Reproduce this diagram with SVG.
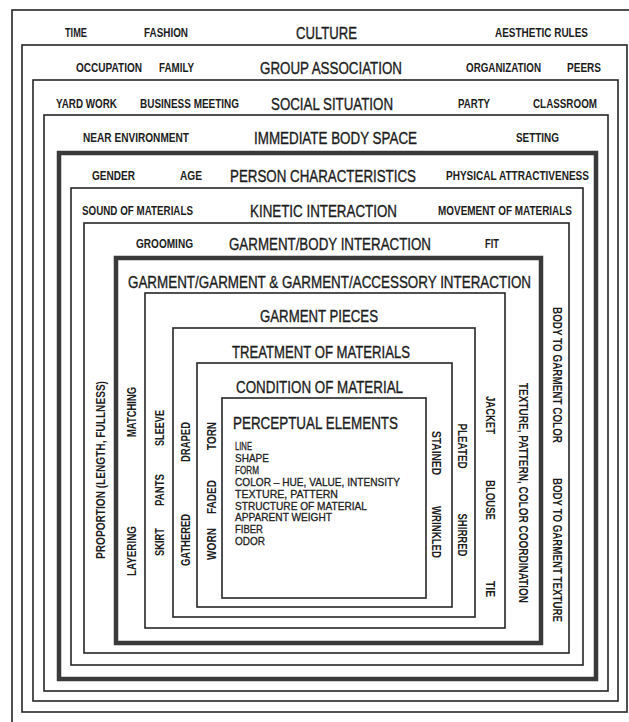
<svg xmlns="http://www.w3.org/2000/svg" width="629" height="722" viewBox="0 0 629 722">
  <style>
    .bx { fill: none; stroke: #262626; stroke-width: 1.6; }
    .bk { fill: none; stroke: #3a3a3a; stroke-width: 4.5; }
    text { font-family: "Liberation Sans", Arial, sans-serif; fill: #1c1c1c; }
    .t { font-size: 16px; stroke: #1c1c1c; stroke-width: 0.35; }
    .s { font-size: 12px; font-weight: bold; }
    .l { font-size: 11px; stroke: #1c1c1c; stroke-width: 0.3; }
  </style>
  <rect width="629" height="722" fill="#ffffff"/>

  <!-- layer 1 -->
  <g id="culture">
    <rect class="bx" x="12" y="10" width="626" height="716"/>
    <text class="s" x="65" y="37.3" textLength="22" lengthAdjust="spacingAndGlyphs">TIME</text>
    <text class="s" x="144" y="37.3" textLength="44" lengthAdjust="spacingAndGlyphs">FASHION</text>
    <text class="t" x="296" y="38.7" textLength="61" lengthAdjust="spacingAndGlyphs">CULTURE</text>
    <text class="s" x="495" y="37.3" textLength="93" lengthAdjust="spacingAndGlyphs">AESTHETIC RULES</text>
  </g>

  <!-- layer 2 -->
  <g id="group-association">
    <rect class="bx" x="22" y="45" width="605" height="667"/>
    <text class="s" x="76" y="72.3" textLength="66" lengthAdjust="spacingAndGlyphs">OCCUPATION</text>
    <text class="s" x="159" y="72.3" textLength="35" lengthAdjust="spacingAndGlyphs">FAMILY</text>
    <text class="t" x="260" y="73.7" textLength="142" lengthAdjust="spacingAndGlyphs">GROUP ASSOCIATION</text>
    <text class="s" x="466" y="72.3" textLength="75" lengthAdjust="spacingAndGlyphs">ORGANIZATION</text>
    <text class="s" x="567" y="72.3" textLength="34" lengthAdjust="spacingAndGlyphs">PEERS</text>
  </g>

  <!-- layer 3 -->
  <g id="social-situation">
    <rect class="bx" x="33" y="80" width="585" height="621"/>
    <text class="s" x="56" y="108.3" textLength="61" lengthAdjust="spacingAndGlyphs">YARD WORK</text>
    <text class="s" x="140" y="108.3" textLength="99" lengthAdjust="spacingAndGlyphs">BUSINESS MEETING</text>
    <text class="t" x="271" y="109.7" textLength="122" lengthAdjust="spacingAndGlyphs">SOCIAL SITUATION</text>
    <text class="s" x="458" y="108.3" textLength="32" lengthAdjust="spacingAndGlyphs">PARTY</text>
    <text class="s" x="533" y="108.3" textLength="64" lengthAdjust="spacingAndGlyphs">CLASSROOM</text>
  </g>

  <!-- layer 4 -->
  <g id="immediate-body-space">
    <rect class="bx" x="44" y="115" width="564" height="576"/>
    <text class="s" x="83" y="142.3" textLength="106" lengthAdjust="spacingAndGlyphs">NEAR ENVIRONMENT</text>
    <text class="t" x="254" y="143.7" textLength="163" lengthAdjust="spacingAndGlyphs">IMMEDIATE BODY SPACE</text>
    <text class="s" x="516" y="142.3" textLength="43" lengthAdjust="spacingAndGlyphs">SETTING</text>
  </g>

  <!-- layer 5 -->
  <g id="person-characteristics">
    <rect class="bk" x="59" y="153" width="537" height="526"/>
    <text class="s" x="92" y="180.3" textLength="43" lengthAdjust="spacingAndGlyphs">GENDER</text>
    <text class="s" x="180" y="180.3" textLength="22" lengthAdjust="spacingAndGlyphs">AGE</text>
    <text class="t" x="230" y="181.7" textLength="186" lengthAdjust="spacingAndGlyphs">PERSON CHARACTERISTICS</text>
    <text class="s" x="446" y="180.3" textLength="143" lengthAdjust="spacingAndGlyphs">PHYSICAL ATTRACTIVENESS</text>
  </g>

  <!-- layer 6 -->
  <g id="kinetic-interaction">
    <rect class="bx" x="71" y="188" width="512" height="477"/>
    <text class="s" x="82" y="215.3" textLength="111" lengthAdjust="spacingAndGlyphs">SOUND OF MATERIALS</text>
    <text class="t" x="250" y="216.7" textLength="147" lengthAdjust="spacingAndGlyphs">KINETIC INTERACTION</text>
    <text class="s" x="438" y="215.3" textLength="134" lengthAdjust="spacingAndGlyphs">MOVEMENT OF MATERIALS</text>
  </g>

  <!-- layer 7 -->
  <g id="garment-body-interaction">
    <rect class="bx" x="84" y="223" width="485" height="430"/>
    <text class="s" x="136" y="248.3" textLength="57" lengthAdjust="spacingAndGlyphs">GROOMING</text>
    <text class="t" x="229" y="249.7" textLength="202" lengthAdjust="spacingAndGlyphs">GARMENT/BODY INTERACTION</text>
    <text class="s" x="485" y="248.3" textLength="14" lengthAdjust="spacingAndGlyphs">FIT</text>
    <g transform="translate(101,470) rotate(-90)">
      <text class="s" x="0" y="4.3" text-anchor="middle" textLength="178" lengthAdjust="spacingAndGlyphs">PROPORTION (LENGTH, FULLNESS)</text>
    </g>
    <g transform="translate(557,375) rotate(90)">
      <text class="s" x="0" y="4.3" text-anchor="middle" textLength="136" lengthAdjust="spacingAndGlyphs">BODY TO GARMENT COLOR</text>
    </g>
    <g transform="translate(557,550) rotate(90)">
      <text class="s" x="0" y="4.3" text-anchor="middle" textLength="144" lengthAdjust="spacingAndGlyphs">BODY TO GARMENT TEXTURE</text>
    </g>
  </g>

  <!-- layer 8 -->
  <g id="garment-garment-interaction">
    <rect class="bk" x="116" y="258" width="425" height="385"/>
    <text class="t" x="128" y="287.7" textLength="403" lengthAdjust="spacingAndGlyphs">GARMENT/GARMENT &amp; GARMENT/ACCESSORY INTERACTION</text>
    <g transform="translate(132,412) rotate(-90)">
      <text class="s" x="0" y="4.3" text-anchor="middle" textLength="50" lengthAdjust="spacingAndGlyphs">MATCHING</text>
    </g>
    <g transform="translate(132,551) rotate(-90)">
      <text class="s" x="0" y="4.3" text-anchor="middle" textLength="50" lengthAdjust="spacingAndGlyphs">LAYERING</text>
    </g>
    <g transform="translate(523,493) rotate(90)">
      <text class="s" x="0" y="4.3" text-anchor="middle" textLength="220" lengthAdjust="spacingAndGlyphs">TEXTURE, PATTERN, COLOR COORDINATION</text>
    </g>
  </g>

  <!-- layer 9 -->
  <g id="garment-pieces">
    <rect class="bx" x="145" y="293" width="360" height="335"/>
    <text class="t" x="260" y="321.7" textLength="118" lengthAdjust="spacingAndGlyphs">GARMENT PIECES</text>
    <g transform="translate(160,428) rotate(-90)">
      <text class="s" x="0" y="4.3" text-anchor="middle" textLength="36" lengthAdjust="spacingAndGlyphs">SLEEVE</text>
    </g>
    <g transform="translate(160,490) rotate(-90)">
      <text class="s" x="0" y="4.3" text-anchor="middle" textLength="32" lengthAdjust="spacingAndGlyphs">PANTS</text>
    </g>
    <g transform="translate(160,542) rotate(-90)">
      <text class="s" x="0" y="4.3" text-anchor="middle" textLength="28" lengthAdjust="spacingAndGlyphs">SKIRT</text>
    </g>
    <g transform="translate(490,415) rotate(90)">
      <text class="s" x="0" y="4.3" text-anchor="middle" textLength="38" lengthAdjust="spacingAndGlyphs">JACKET</text>
    </g>
    <g transform="translate(490,500) rotate(90)">
      <text class="s" x="0" y="4.3" text-anchor="middle" textLength="40" lengthAdjust="spacingAndGlyphs">BLOUSE</text>
    </g>
    <g transform="translate(490,589) rotate(90)">
      <text class="s" x="0" y="4.3" text-anchor="middle" textLength="16" lengthAdjust="spacingAndGlyphs">TIE</text>
    </g>
  </g>

  <!-- layer 10 -->
  <g id="treatment-of-materials">
    <rect class="bx" x="173" y="328" width="302" height="289"/>
    <text class="t" x="232" y="357.7" textLength="178" lengthAdjust="spacingAndGlyphs">TREATMENT OF MATERIALS</text>
    <g transform="translate(186,442) rotate(-90)">
      <text class="s" x="0" y="4.3" text-anchor="middle" textLength="40" lengthAdjust="spacingAndGlyphs">DRAPED</text>
    </g>
    <g transform="translate(186,540) rotate(-90)">
      <text class="s" x="0" y="4.3" text-anchor="middle" textLength="52" lengthAdjust="spacingAndGlyphs">GATHERED</text>
    </g>
    <g transform="translate(462,446) rotate(90)">
      <text class="s" x="0" y="4.3" text-anchor="middle" textLength="45" lengthAdjust="spacingAndGlyphs">PLEATED</text>
    </g>
    <g transform="translate(462,535) rotate(90)">
      <text class="s" x="0" y="4.3" text-anchor="middle" textLength="43" lengthAdjust="spacingAndGlyphs">SHIRRED</text>
    </g>
  </g>

  <!-- layer 11 -->
  <g id="condition-of-material">
    <rect class="bx" x="197" y="363" width="255" height="244"/>
    <text class="t" x="236" y="392.7" textLength="167" lengthAdjust="spacingAndGlyphs">CONDITION OF MATERIAL</text>
    <g transform="translate(212,436) rotate(-90)">
      <text class="s" x="0" y="4.3" text-anchor="middle" textLength="28" lengthAdjust="spacingAndGlyphs">TORN</text>
    </g>
    <g transform="translate(212,497) rotate(-90)">
      <text class="s" x="0" y="4.3" text-anchor="middle" textLength="34" lengthAdjust="spacingAndGlyphs">FADED</text>
    </g>
    <g transform="translate(212,544) rotate(-90)">
      <text class="s" x="0" y="4.3" text-anchor="middle" textLength="32" lengthAdjust="spacingAndGlyphs">WORN</text>
    </g>
    <g transform="translate(436,453) rotate(90)">
      <text class="s" x="0" y="4.3" text-anchor="middle" textLength="44" lengthAdjust="spacingAndGlyphs">STAINED</text>
    </g>
    <g transform="translate(436,532) rotate(90)">
      <text class="s" x="0" y="4.3" text-anchor="middle" textLength="52" lengthAdjust="spacingAndGlyphs">WRINKLED</text>
    </g>
  </g>

  <!-- layer 12 -->
  <g id="perceptual-elements">
    <rect class="bx" x="222" y="398" width="204" height="200"/>
    <text class="t" x="233" y="428.7" textLength="165" lengthAdjust="spacingAndGlyphs">PERCEPTUAL ELEMENTS</text>
    <text class="l" x="235" y="450" textLength="17" lengthAdjust="spacingAndGlyphs">LINE</text>
    <text class="l" x="235" y="461.9" textLength="34" lengthAdjust="spacingAndGlyphs">SHAPE</text>
    <text class="l" x="235" y="473.8" textLength="24" lengthAdjust="spacingAndGlyphs">FORM</text>
    <text class="l" x="235" y="485.7" textLength="165" lengthAdjust="spacingAndGlyphs">COLOR – HUE, VALUE, INTENSITY</text>
    <text class="l" x="235" y="497.6" textLength="103" lengthAdjust="spacingAndGlyphs">TEXTURE, PATTERN</text>
    <text class="l" x="235" y="509.5" textLength="132" lengthAdjust="spacingAndGlyphs">STRUCTURE OF MATERIAL</text>
    <text class="l" x="235" y="521.4" textLength="97" lengthAdjust="spacingAndGlyphs">APPARENT WEIGHT</text>
    <text class="l" x="235" y="533.3" textLength="28" lengthAdjust="spacingAndGlyphs">FIBER</text>
    <text class="l" x="235" y="545.2" textLength="30" lengthAdjust="spacingAndGlyphs">ODOR</text>
  </g>
</svg>
